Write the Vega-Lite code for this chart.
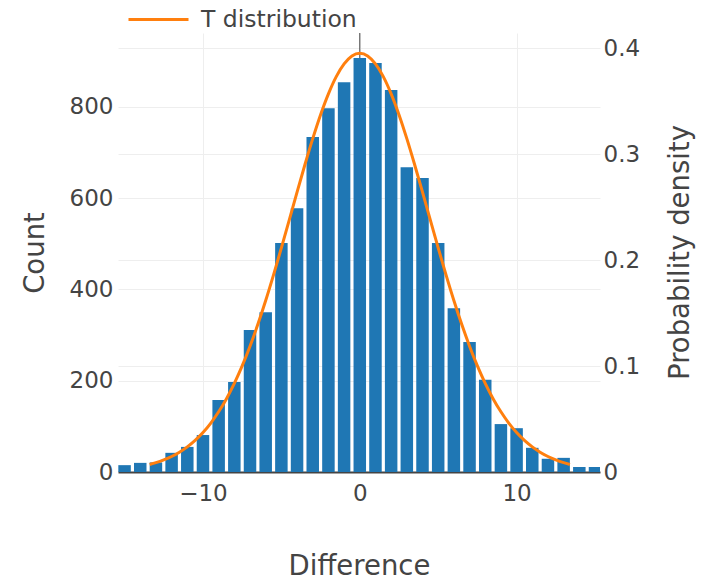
{
  "$schema": "https://vega.github.io/schema/vega-lite/v6.json",
  "width": 482,
  "height": 439,
  "autosize": {"type": "none"},
  "padding": {"left": 118, "top": 33, "right": 114, "bottom": 109},
  "background": "white",
  "config": {
    "font": "DejaVu Sans",
    "view": {"stroke": null},
    "axis": {"labelColor": "#444", "titleColor": "#444", "labelFont": "DejaVu Sans", "titleFont": "DejaVu Sans", "titleFontWeight": "normal", "gridColor": "#eeeeee", "gridWidth": 1, "ticks": false, "domain": false}
  },
  "datasets": {
    "hist": [
      {"diff": -15, "count": 15}, {"diff": -14, "count": 20}, {"diff": -13, "count": 21},
      {"diff": -12, "count": 42}, {"diff": -11, "count": 55}, {"diff": -10, "count": 81},
      {"diff": -9, "count": 158}, {"diff": -8, "count": 197}, {"diff": -7, "count": 311},
      {"diff": -6, "count": 350}, {"diff": -5, "count": 502}, {"diff": -4, "count": 578},
      {"diff": -3, "count": 734}, {"diff": -2, "count": 797}, {"diff": -1, "count": 854},
      {"diff": 0, "count": 907}, {"diff": 1, "count": 896}, {"diff": 2, "count": 837},
      {"diff": 3, "count": 668}, {"diff": 4, "count": 644}, {"diff": 5, "count": 502},
      {"diff": 6, "count": 359}, {"diff": 7, "count": 285}, {"diff": 8, "count": 202},
      {"diff": 9, "count": 105}, {"diff": 10, "count": 96}, {"diff": 11, "count": 53},
      {"diff": 12, "count": 29}, {"diff": 13, "count": 31}, {"diff": 14, "count": 11},
      {"diff": 15, "count": 11}
    ],
    "tdist": [
      {"x": -13.4, "pdf": 0.0071}, {"x": -13, "pdf": 0.0088}, {"x": -12.5, "pdf": 0.0114},
      {"x": -12, "pdf": 0.0146}, {"x": -11.5, "pdf": 0.0187}, {"x": -11, "pdf": 0.0237},
      {"x": -10.5, "pdf": 0.0298}, {"x": -10, "pdf": 0.0372}, {"x": -9.5, "pdf": 0.0462},
      {"x": -9, "pdf": 0.0568}, {"x": -8.5, "pdf": 0.0692}, {"x": -8, "pdf": 0.0836},
      {"x": -7.5, "pdf": 0.1001}, {"x": -7, "pdf": 0.1187}, {"x": -6.5, "pdf": 0.1393},
      {"x": -6, "pdf": 0.1618}, {"x": -5.5, "pdf": 0.186}, {"x": -5, "pdf": 0.2114},
      {"x": -4.5, "pdf": 0.2376}, {"x": -4, "pdf": 0.264}, {"x": -3.5, "pdf": 0.2899},
      {"x": -3, "pdf": 0.3145}, {"x": -2.5, "pdf": 0.3371}, {"x": -2, "pdf": 0.3568},
      {"x": -1.5, "pdf": 0.373}, {"x": -1, "pdf": 0.385}, {"x": -0.5, "pdf": 0.3925},
      {"x": 0, "pdf": 0.395}, {"x": 0.5, "pdf": 0.3925}, {"x": 1, "pdf": 0.385},
      {"x": 1.5, "pdf": 0.373}, {"x": 2, "pdf": 0.3568}, {"x": 2.5, "pdf": 0.3371},
      {"x": 3, "pdf": 0.3145}, {"x": 3.5, "pdf": 0.2899}, {"x": 4, "pdf": 0.264},
      {"x": 4.5, "pdf": 0.2376}, {"x": 5, "pdf": 0.2114}, {"x": 5.5, "pdf": 0.186},
      {"x": 6, "pdf": 0.1618}, {"x": 6.5, "pdf": 0.1393}, {"x": 7, "pdf": 0.1187},
      {"x": 7.5, "pdf": 0.1001}, {"x": 8, "pdf": 0.0836}, {"x": 8.5, "pdf": 0.0692},
      {"x": 9, "pdf": 0.0568}, {"x": 9.5, "pdf": 0.0462}, {"x": 10, "pdf": 0.0372},
      {"x": 10.5, "pdf": 0.0298}, {"x": 11, "pdf": 0.0237}, {"x": 11.5, "pdf": 0.0187},
      {"x": 12, "pdf": 0.0146}, {"x": 12.5, "pdf": 0.0114}, {"x": 13, "pdf": 0.0088},
      {"x": 13.4, "pdf": 0.0071}
    ],
    "zero": [{"x": 0}]
  },
  "layer": [
    {
      "data": {"name": "zero"},
      "mark": {"type": "rule", "color": "#444", "strokeWidth": 1},
      "encoding": {
        "x": {"field": "x", "type": "quantitative", "scale": {"domain": [-15.1, 15], "nice": false, "zero": false}}
      }
    },
    {
      "data": {"name": "hist"},
      "mark": {"type": "bar", "size": 12.5, "color": "#1f77b4", "clip": true},
      "encoding": {
        "x": {
          "field": "diff", "type": "quantitative",
          "scale": {"domain": [-15.1, 15], "nice": false, "zero": false},
          "axis": {"title": "Difference", "values": [-10, 0, 10], "labelExpr": "replace(datum.label, '-', '−')", "labelFontSize": 23, "titleFontSize": 27.5, "labelPadding": 10, "titlePadding": 47, "grid": true, "domain": true, "domainColor": "#444", "domainWidth": 2}
        },
        "y": {
          "field": "count", "type": "quantitative",
          "scale": {"domain": [0, 962], "nice": false},
          "axis": {"orient": "left", "title": "Count", "values": [0, 200, 400, 600, 800], "labelFontSize": 23, "titleFontSize": 27.5, "labelPadding": 5, "titlePadding": 20, "grid": true}
        }
      }
    },
    {
      "data": {"name": "tdist"},
      "mark": {"type": "line", "strokeWidth": 3, "interpolate": "monotone"},
      "encoding": {
        "x": {"field": "x", "type": "quantitative", "scale": {"domain": [-15.1, 15], "nice": false, "zero": false}},
        "y": {
          "field": "pdf", "type": "quantitative",
          "scale": {"domain": [0, 0.4142], "nice": false},
          "axis": {"orient": "right", "title": "Probability density", "values": [0, 0.1, 0.2, 0.3, 0.4], "labelExpr": "datum.value == 0 ? '0' : format(datum.value, '.1f')", "labelFontSize": 23, "titleFontSize": 27.5, "labelPadding": 3, "titleAngle": -90, "titleX": 80, "titleY": 219, "titleAlign": "center", "titleBaseline": "middle", "grid": true}
        },
        "color": {
          "datum": "T distribution",
          "scale": {"range": ["#ff7f0e"]},
          "legend": {"title": null, "orient": "none", "legendX": 9, "legendY": -45, "symbolType": "stroke", "symbolSize": 3600, "symbolStrokeWidth": 3, "labelFontSize": 23.5, "labelColor": "#444", "labelFont": "DejaVu Sans", "padding": 0, "labelOffset": 11}
        }
      }
    }
  ],
  "resolve": {"scale": {"y": "independent"}}
}
